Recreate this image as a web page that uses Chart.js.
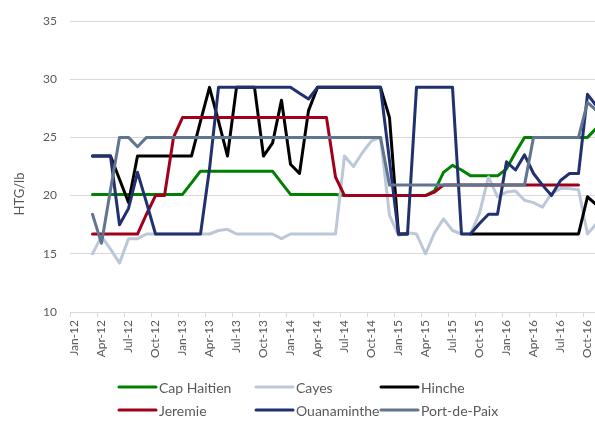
<!DOCTYPE html>
<html>
<head>
<meta charset="utf-8">
<script src="https://cdn.jsdelivr.net/npm/chart.js@4.4.1/dist/chart.umd.min.js"></script>
<style>
  html, body { margin: 0; padding: 0; background: #fff; overflow: hidden; }
  #wrap { position: absolute; left: 0; top: 0; width: 620px; height: 424px; }
</style>
</head>
<body>
<div id="wrap"><canvas id="chart" width="620" height="424"></canvas></div>
<script>
// tick labels, one every 3 months starting Jan-12
const tickLabels = ['Jan-12', 'Apr-12', 'Jul-12', 'Oct-12', 'Jan-13', 'Apr-13', 'Jul-13', 'Oct-13',
  'Jan-14', 'Apr-14', 'Jul-14', 'Oct-14', 'Jan-15', 'Apr-15', 'Jul-15', 'Oct-15',
  'Jan-16', 'Apr-16', 'Jul-16', 'Oct-16'];

const seriesNames = ['Cap Haitien', 'Cayes', 'Hinche', 'Jeremie', 'Ouanaminthe', 'Port-de-Paix'];
const seriesColors = ['#008000', '#BCC8D8', '#000000', '#A0001A', '#21306F', '#617590'];

// monthly prices (HTG/lb), index 0 = Jan-12
const capHaitien = [null, null,
  20.1, 20.1, 20.1, 20.1, 20.1, 20.1, 20.1, 20.1, 20.1, 20.1, 20.1,
  21.1, 22.1, 22.1, 22.1, 22.1, 22.1, 22.1, 22.1, 22.1, 22.1,
  21.1, 20.1, 20.1, 20.1, 20.1, 20.1, 20.1,
  20.0, 20.0, 20.0, 20.0, 20.0, 20.0, 20.0, 20.0, 20.0, 20.0,
  20.4, 22.0, 22.6, 22.2, 21.7, 21.7, 21.7, 21.7, 22.3, 23.7,
  25.0, 25.0, 25.0, 25.0, 25.0, 25.0, 25.0, 25.0, 25.8];

const cayes = [null, null,
  15.0, 16.5, 15.4, 14.2, 16.3, 16.3, 16.7,
  16.7, 16.7, 16.7, 16.7, 16.7, 16.7,
  16.7, 17.0, 17.1, 16.7,
  16.7, 16.7, 16.7, 16.7,
  16.3, 16.7,
  16.7, 16.7, 16.7, 16.7, 16.7,
  23.4, 22.5, 23.7, 24.7, 25.0, 18.3, 16.6, 16.8, 16.7, 15.0,
  16.8, 18.0, 17.0, 16.7, 16.7, 18.5, 21.6, 19.9, 20.3, 20.4,
  19.6, 19.4, 19.0, 20.2, 20.6, 20.6, 20.5, 16.7, 17.6];

const hinche = [null, null,
  23.4, 23.4, 23.4, 21.4, 19.4, 23.4,
  23.4, 23.4, 23.4, 23.4, 23.4, 23.4,
  26.4, 29.3, 26.4, 23.4, 29.3, 29.3, 29.3, 23.4, 24.5, 28.2, 22.7, 21.9, 27.3,
  29.3, 29.3, 29.3, 29.3, 29.3, 29.3, 29.3, 29.3,
  26.7, 16.7, 16.7,
  null, null, null, null, null, null,
  16.7, 16.7, 16.7, 16.7, 16.7, 16.7, 16.7, 16.7, 16.7, 16.7, 16.7, 16.7, 16.7,
  19.9, 19.2];

const jeremie = [null, null,
  16.7, 16.7, 16.7, 16.7, 16.7, 16.7,
  18.4, 20.0, 20.0, 25.0,
  26.7, 26.7, 26.7, 26.7, 26.7, 26.7, 26.7, 26.7, 26.7, 26.7, 26.7, 26.7, 26.7, 26.7, 26.7, 26.7, 26.7,
  21.6,
  20.0, 20.0, 20.0, 20.0, 20.0, 20.0, 20.0, 20.0, 20.0, 20.0,
  20.3, 20.9,
  20.9, 20.9, 20.9, 20.9, 20.9, 20.9, 20.9, 20.9, 20.9, 20.9, 20.9, 20.9, 20.9, 20.9, 20.9,
  null, 20.9];

const ouanaminthe = [null, null,
  23.4, 23.4, 23.4, 17.5, 18.9, 22.0, 19.4,
  16.7, 16.7, 16.7, 16.7, 16.7, 16.7,
  22.3,
  29.3, 29.3, 29.3, 29.3, 29.3, 29.3, 29.3, 29.3, 29.3,
  28.8, 28.3,
  29.3, 29.3, 29.3, 29.3, 29.3, 29.3, 29.3, 29.3,
  23.0, 16.7, 16.7,
  29.3, 29.3, 29.3, 29.3, 29.3,
  16.7, 16.7, 17.6, 18.4, 18.4, 22.9, 22.2, 23.5, 21.9, 20.9, 20.0, 21.3, 21.9, 21.9, 28.7, 27.7];

const portDePaix = [null, null,
  18.4, 15.9, 20.5, 25.0, 25.0, 24.2,
  25.0, 25.0, 25.0, 25.0, 25.0, 25.0, 25.0, 25.0, 25.0, 25.0, 25.0, 25.0, 25.0, 25.0,
  25.0, 25.0, 25.0, 25.0, 25.0, 25.0, 25.0, 25.0, 25.0, 25.0, 25.0, 25.0, 25.0,
  20.9, 20.9, 20.9, 20.9, 20.9, 20.9, 20.9, 20.9, 20.9, 20.9, 20.9, 20.9, 20.9, 20.9, 20.9, 20.9,
  25.0, 25.0, 25.0, 25.0, 25.0, 25.0,
  28.0, 27.3];

const series = [capHaitien, cayes, hinche, jeremie, ouanaminthe, portDePaix];
const yTitle = 'HTG/lb';

const FONT = 'Lato';
const TEXT = '#595959';

// y title + legend drawn by hand (legend is two rows of three, left aligned columns)
const extras = {
  id: 'extras',
  afterDraw(chart) {
    const ctx = chart.ctx;
    ctx.save();
    ctx.translate(20, 194);
    ctx.rotate(-Math.PI / 2);
    ctx.font = '13px ' + FONT;
    ctx.fillStyle = TEXT;
    ctx.textAlign = 'center';
    ctx.textBaseline = 'middle';
    ctx.fillText(yTitle, 0, 0);
    ctx.restore();

    const cols = [119, 256, 381];
    const rows = [387, 410];
    ctx.save();
    ctx.font = '14px ' + FONT;
    ctx.textBaseline = 'middle';
    ctx.textAlign = 'left';
    chart.data.datasets.forEach((ds, i) => {
      const x = cols[i % 3];
      const y = rows[Math.floor(i / 3)];
      ctx.strokeStyle = ds.borderColor;
      ctx.lineWidth = 3;
      ctx.lineCap = 'round';
      ctx.beginPath();
      ctx.moveTo(x, y);
      ctx.lineTo(x + 37, y);
      ctx.stroke();
      ctx.fillStyle = TEXT;
      ctx.fillText(ds.label, x + 40, y + 1);
    });
    ctx.restore();
  }
};

const ctx = document.getElementById('chart');
new Chart(ctx, {
  type: 'line',
  data: {
    datasets: series.map((vals, i) => ({
      label: seriesNames[i],
      data: vals.map((v, m) => ({ x: m, y: v })),
      borderColor: seriesColors[i],
      backgroundColor: seriesColors[i],
      borderWidth: 3,
      pointRadius: 0,
      tension: 0,
      borderJoinStyle: 'round',
      borderCapStyle: 'round',
      spanGaps: false,
      order: series.length - i   // later series on top, like the original
    }))
  },
  options: {
    responsive: false,
    animation: false,
    layout: { padding: { top: 21, right: 10, left: 0, bottom: 0 } },
    plugins: {
      legend: { display: false },
      tooltip: { enabled: false }
    },
    scales: {
      x: {
        type: 'linear',
        min: -0.5,
        max: 59.5,
        afterBuildTicks: (axis) => {
          axis.ticks = tickLabels.map((t, k) => ({ value: -0.5 + 3 * k }));
        },
        afterFit: (scale) => { scale.height = 112; },
        ticks: {
          callback: (v, i) => tickLabels[i],
          autoSkip: false,
          maxRotation: 90,
          minRotation: 90,
          labelOffset: 4.5,
          padding: 3,
          color: TEXT,
          font: { family: FONT, size: 12 }
        },
        grid: { drawOnChartArea: false, drawTicks: true, tickLength: 5, color: '#d9d9d9' },
        border: { display: true, color: '#d9d9d9' }
      },
      y: {
        min: 10,
        max: 35,
        afterFit: (scale) => { scale.width = 70; },
        ticks: {
          stepSize: 5,
          padding: 13,
          color: TEXT,
          font: { family: FONT, size: 12 }
        },
        grid: { color: '#d9d9d9', drawTicks: false },
        border: { display: false }
      }
    }
  },
  plugins: [extras]
});
</script>
</body>
</html>
